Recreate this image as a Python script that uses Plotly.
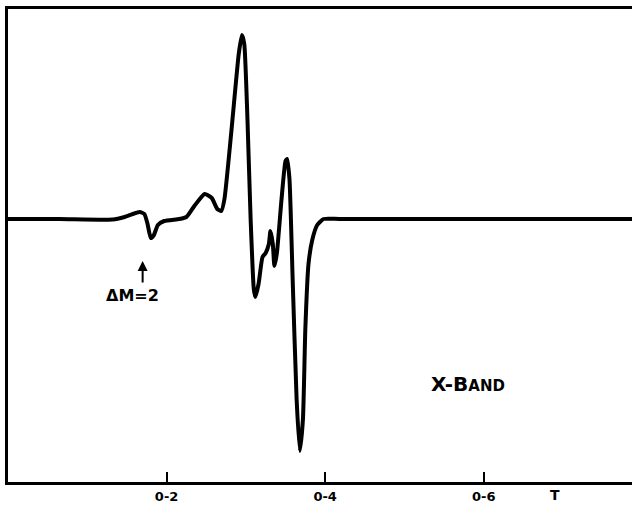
import plotly.graph_objects as go

# X-band EPR spectrum: magnetic field (T) vs. first-derivative signal (arb. units)
field_T = [0.000, 0.065, 0.132, 0.147, 0.166, 0.172, 0.176, 0.180, 0.184, 0.189,
           0.197, 0.216, 0.225, 0.235, 0.248, 0.257, 0.264, 0.269, 0.273, 0.282,
           0.291, 0.295, 0.298, 0.302, 0.306, 0.310, 0.312, 0.316, 0.321, 0.325,
           0.329, 0.331, 0.334, 0.336, 0.339, 0.345, 0.350, 0.352, 0.355, 0.359,
           0.364, 0.368, 0.372, 0.375, 0.379, 0.384, 0.390, 0.398, 0.418, 0.787]
signal = [0.00, 0.00, -0.005, 0.02, 0.07, 0.05, -0.05, -0.19, -0.16, -0.06,
          -0.02, 0.00, 0.02, 0.13, 0.25, 0.21, 0.10, 0.08, 0.20, 0.90,
          1.65, 1.84, 1.75, 1.00, 0.00, -0.70, -0.78, -0.65, -0.38, -0.34,
          -0.25, -0.12, -0.25, -0.47, -0.35, 0.20, 0.58, 0.60, 0.40, -0.60,
          -1.80, -2.32, -2.00, -1.10, -0.45, -0.20, -0.06, 0.00, 0.00, 0.00]

tick_vals = [0.2, 0.4, 0.6]
tick_text = ["0-2", "0-4", "0-6"]

fig = go.Figure()
fig.add_trace(go.Scatter(
    x=field_T, y=signal, mode="lines",
    line=dict(color="black", width=4, shape="spline", smoothing=0.5),
    hoverinfo="skip", showlegend=False,
))

fig.update_layout(
    width=632, height=505,
    margin=dict(l=8, r=0, t=9, b=23),
    paper_bgcolor="white", plot_bgcolor="white",
    font=dict(family="DejaVu Sans", color="black"),
    xaxis=dict(
        range=[0, 0.787], showgrid=False, zeroline=False,
        showline=True, linecolor="black", linewidth=3, mirror=True,
        ticks="inside", ticklen=10, tickwidth=2, tickcolor="black",
        tickvals=tick_vals, ticktext=tick_text,
        tickfont=dict(size=13, weight="bold", family="DejaVu Sans"),
    ),
    yaxis=dict(
        range=[-2.63, 2.10], showgrid=False, zeroline=False,
        showline=True, linecolor="black", linewidth=3, mirror=False,
        showticklabels=False, ticks="",
    ),
    annotations=[
        # field unit label beside the tick labels
        dict(x=0.69, y=0, xref="x", yref="paper", text="<b>T</b>",
             showarrow=False, yanchor="top", yshift=-3,
             font=dict(size=14, family="DejaVu Sans")),
        # half-field transition marker
        dict(x=0.1698, y=-0.42, xref="x", yref="y", text="",
             showarrow=True, arrowhead=2, arrowsize=1, arrowwidth=2,
             arrowcolor="black", ax=0, ay=23),
        dict(x=0.157, y=-0.76, xref="x", yref="y",
             text="<b>ΔM=2</b>", showarrow=False,
             font=dict(size=16, family="DejaVu Sans")),
        dict(x=0.58, y=-1.65, xref="x", yref="y",
             text="<b>X-B<span style='font-size:15px'>AND</span></b>",
             showarrow=False, font=dict(size=20, family="DejaVu Sans")),
    ],
)

fig.write_html("out.html")
